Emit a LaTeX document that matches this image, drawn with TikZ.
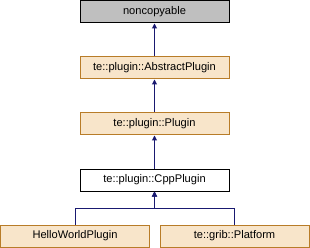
\documentclass[tikz,border=0pt]{standalone}
\usepackage{fontspec}
\setmainfont{Liberation Sans}
\usetikzlibrary{arrows.meta}
\definecolor{boxfill}{RGB}{248,229,202}
\definecolor{boxdraw}{RGB}{184,124,40}
\definecolor{extfill}{RGB}{191,191,191}
\definecolor{edgecol}{RGB}{25,25,112}
\tikzset{
  cls/.style={draw=boxdraw, fill=boxfill, line width=1pt, minimum width=149pt, minimum height=22pt, inner sep=0pt, font=\fontsize{11.1pt}{13pt}\selectfont},
  ext/.style={cls, draw=black, fill=extfill},
  plain/.style={cls, draw=black, fill=white},
  inh/.style={draw=edgecol, line width=1pt, {Triangle[length=5pt,width=5pt]}-},
}
\begin{document}
\begin{tikzpicture}[x=1pt,y=-1pt]
\useasboundingbox (0,0) rectangle (310,248);
\node[ext]   (nc)  at (154.5,12)  {noncopyable};
\node[cls]   (ap)  at (154.5,68)  {te::plugin::AbstractPlugin};
\node[cls]   (pl)  at (154.5,124) {te::plugin::Plugin};
\node[plain] (cpp) at (154.5,180) {te::plugin::CppPlugin};
\node[cls]   (hw)  at (75,236)    {HelloWorldPlugin};
\node[cls]   (gp)  at (234.5,236) {te::grib::Platform};
\draw[inh] (nc.south) -- (ap.north);
\draw[inh] (ap.south) -- (pl.north);
\draw[inh] (pl.south) -- (cpp.north);
\draw[inh] (cpp.south) -- (cpp.south |- 0,208) -| (hw.north);
\draw[inh] (cpp.south) -- (cpp.south |- 0,208) -| (gp.north);
\end{tikzpicture}
\end{document}
